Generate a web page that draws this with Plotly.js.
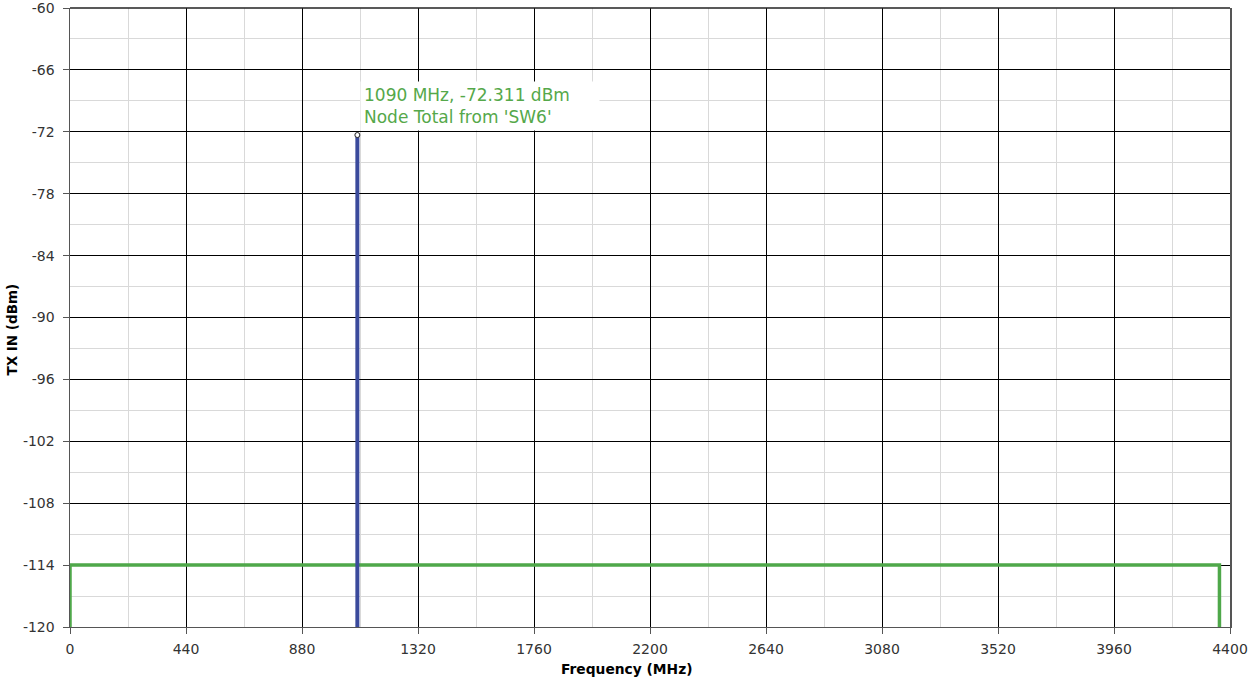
<!DOCTYPE html>
<html>
<head>
<meta charset="utf-8">
<script src="https://cdn.plot.ly/plotly-3.0.1.min.js"></script>
<style>
  html, body { margin: 0; padding: 0; background: #fff; }
  #chart { width: 1249px; height: 680px; }
</style>
</head>
<body>
<div id="chart"></div>
<script>
// Noise-floor outline of the band (MHz / dBm)
const floorFreq = [0, 0, 4360, 4360];
const floorLevel = [-120, -114, -114, -120];

// Single tone at the node total
const toneFreq = [1090, 1090];
const toneLevel = [-120, -72.311];

// Marker readout
const markerFreq = [1090];
const markerLevel = [-72.311];
const markerSource = "Node Total from 'SW6'";

// Axis ticks and titles
const xTicks = [0, 440, 880, 1320, 1760, 2200, 2640, 3080, 3520, 3960, 4400];
const yTicks = [-60, -66, -72, -78, -84, -90, -96, -102, -108, -114, -120];
const xTitle = 'Frequency (MHz)';
const yTitle = 'TX IN (dBm)';

const font = 'DejaVu Sans, Arial, sans-serif';

const traces = [
  {
    x: floorFreq, y: floorLevel, type: 'scatter', mode: 'lines',
    line: { color: '#4fa84a', width: 3.5 }, hoverinfo: 'skip', showlegend: false
  },
  {
    x: toneFreq, y: toneLevel, type: 'scatter', mode: 'lines',
    line: { color: '#3a4a9c', width: 4 }, hoverinfo: 'skip', showlegend: false
  },
  {
    x: markerFreq, y: markerLevel, type: 'scatter', mode: 'markers',
    marker: { size: 5, color: '#fff', line: { color: '#222', width: 1 } },
    hoverinfo: 'skip', showlegend: false
  }
];

const layout = {
  width: 1249, height: 680,
  margin: { l: 70, r: 19, t: 8, b: 53 },
  paper_bgcolor: '#fff', plot_bgcolor: '#fff',
  font: { family: font, color: '#333', size: 13 },
  showlegend: false,
  xaxis: {
    range: [0, 4400], tickvals: xTicks, ticktext: xTicks.map(String),
    showgrid: true, gridcolor: '#000', gridwidth: 1,
    minor: { dtick: 220, showgrid: true, gridcolor: '#d9d9d9', gridwidth: 1, ticks: '' },
    showline: true, linecolor: '#555', linewidth: 1,
    ticks: 'outside', ticklen: 6, tickcolor: '#555',
    ticklabelstandoff: 3,
    zeroline: false, ticklabeloverflow: 'allow',
    tickfont: { family: font, size: 14, color: '#333' },
    fixedrange: true
  },
  yaxis: {
    range: [-120, -60], tickvals: yTicks, ticktext: yTicks.map(String),
    showgrid: true, gridcolor: '#000', gridwidth: 1,
    minor: { dtick: 3, showgrid: true, gridcolor: '#d9d9d9', gridwidth: 1, ticks: '' },
    showline: true, mirror: true, linecolor: '#555', linewidth: 1.5,
    ticks: 'outside', ticklen: 6, tickcolor: '#555',
    ticklabelstandoff: 5,
    zeroline: false, ticklabeloverflow: 'allow',
    tickfont: { family: font, size: 14, color: '#333' },
    fixedrange: true
  },
  shapes: [{
    // dark top edge of the frame
    type: 'line', xref: 'paper', yref: 'paper', x0: 0, x1: 1, y0: 1, y1: 1,
    line: { color: '#222', width: 1.5 }
  }],
  annotations: [
    {
      x: markerFreq[0], y: markerLevel[0], xref: 'x', yref: 'y',
      xanchor: 'left', yanchor: 'bottom', align: 'left',
      text: markerFreq[0] + ' MHz, ' + markerLevel[0] + ' dBm<br>' + markerSource,
      showarrow: false, bgcolor: '#fff', borderpad: 3, width: 232,
      xshift: 3, yshift: 4,
      font: { family: font, size: 17, color: '#55a84a' }
    },
    {
      text: '<b>' + xTitle + '</b>', xref: 'paper', yref: 'paper', x: 0.5, y: 0,
      xanchor: 'center', yanchor: 'middle', xshift: -24, yshift: -42,
      showarrow: false, font: { family: font, size: 13.8, color: '#000' }
    },
    {
      text: '<b>' + yTitle + '</b>', xref: 'paper', yref: 'paper', x: 0, y: 0.5,
      xanchor: 'center', yanchor: 'middle', xshift: -59, yshift: -12, textangle: -90,
      showarrow: false, font: { family: font, size: 13.5, color: '#000' }
    }
  ]
};

Plotly.newPlot('chart', traces, layout, { displayModeBar: false, staticPlot: true });
</script>
</body>
</html>
